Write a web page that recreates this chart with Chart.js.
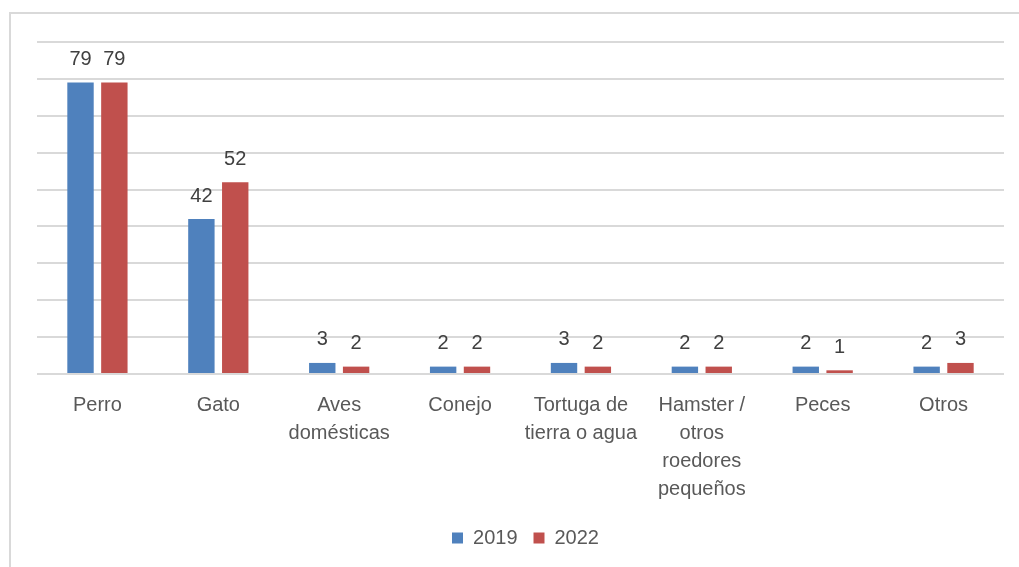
<!DOCTYPE html>
<html>
<head>
<meta charset="utf-8">
<script src="https://cdn.jsdelivr.net/npm/chart.js@4"></script>
<style>
    body { margin: 0; background: #fff; overflow: hidden; }
    #frame { position: absolute; left: 9px; top: 12px; width: 1030px; height: 580px; border: 2px solid #d9d9d9; box-sizing: border-box; }
    #wrap { position: absolute; left: 0; top: 0; width: 1019px; height: 567px; }
</style>
</head>
<body>
<div id="frame"></div>
<div id="wrap"><canvas id="petsChart" width="1019" height="567"></canvas></div>
<script>
// Data
const categories = [
    ['Perro'],
    ['Gato'],
    ['Aves', 'domésticas'],
    ['Conejo'],
    ['Tortuga de', 'tierra o agua'],
    ['Hamster /', 'otros', 'roedores', 'pequeños'],
    ['Peces'],
    ['Otros']
];
const values2019 = [79, 42, 3, 2, 3, 2, 2, 2];
const values2022 = [79, 52, 2, 2, 2, 2, 1, 3];
const seriesLabels = ['2019', '2022'];

// draws the number above every bar
const valueLabels = {
    id: 'valueLabels',
    afterDatasetsDraw(chart) {
        const ctx = chart.ctx;
        ctx.save();
        ctx.font = '20px "Liberation Sans", Arial, sans-serif';
        ctx.fillStyle = '#404040';
        ctx.textAlign = 'center';
        ctx.textBaseline = 'middle';
        chart.data.datasets.forEach((ds, i) => {
            chart.getDatasetMeta(i).data.forEach((bar, j) => {
                ctx.fillText(ds.data[j], bar.x, bar.y - 23);
            });
        });
        ctx.restore();
    }
};

const ctx = document.getElementById('petsChart').getContext('2d');
new Chart(ctx, {
    type: 'bar',
    data: {
        labels: categories,
        datasets: [{
            label: seriesLabels[0],
            data: values2019,
            backgroundColor: '#4f81bd',
            barPercentage: 0.78,
            categoryPercentage: 0.56
        }, {
            label: seriesLabels[1],
            data: values2022,
            backgroundColor: '#c0504d',
            barPercentage: 0.78,
            categoryPercentage: 0.56
        }]
    },
    options: {
        responsive: false,
        animation: false,
        layout: {
            padding: { left: 37, right: 5, top: 42, bottom: 9 }
        },
        plugins: {
            tooltip: { enabled: false },
            legend: {
                position: 'bottom',
                labels: {
                    boxWidth: 11,
                    boxHeight: 11,
                    padding: 16,
                    color: '#595959',
                    font: { family: '"Liberation Sans", Arial, sans-serif', size: 20 }
                }
            }
        },
        scales: {
            x: {
                grid: { display: false },
                border: { display: false },
                ticks: {
                    color: '#595959',
                    padding: 9,
                    maxRotation: 0,
                    autoSkip: false,
                    font: { family: '"Liberation Sans", Arial, sans-serif', size: 20, lineHeight: 1.4 }
                },
                afterFit(scale) { scale.height = 138; }
            },
            y: {
                min: 0,
                max: 90,
                ticks: { display: false, stepSize: 10 },
                border: { display: false },
                grid: { color: '#d9d9d9', lineWidth: 2, drawTicks: false }
            },
            y2: {
                position: 'right',
                min: 0,
                max: 90,
                ticks: { display: false },
                border: { display: false },
                grid: { display: false },
                afterFit(scale) { scale.width = 10; }
            }
        }
    },
    plugins: [valueLabels]
});
</script>
</body>
</html>
